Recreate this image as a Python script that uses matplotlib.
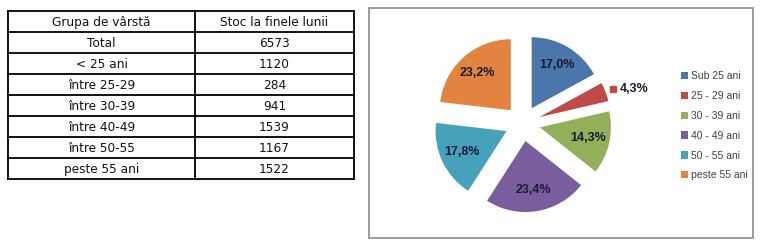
import numpy as np
import matplotlib
matplotlib.use("Agg")
import matplotlib.pyplot as plt
from matplotlib.patches import Rectangle, Patch

# ---- data ----
table_header = ["Grupa de vârstă", "Stoc la finele lunii"]
table_groups = ["Total", "< 25 ani", "între 25-29", "între 30-39", "între 40-49", "între 50-55", "peste 55 ani"]
table_values = [6573, 1120, 284, 941, 1539, 1167, 1522]

pie_labels = ["Sub 25 ani", "25 - 29 ani", "30 - 39 ani", "40 - 49 ani", "50 - 55 ani", "peste 55 ani"]
pie_values = [1120, 284, 941, 1539, 1167, 1522]
pie_colors = ["#4A76AB", "#BE4B48", "#93AF5A", "#7A5D9C", "#46A1BA", "#E2843F"]

W, H = 761, 248
fig = plt.figure(figsize=(W / 100, H / 100), dpi=100)
fig.patch.set_facecolor("white")

# full-figure pixel axes for table and frame
bg = fig.add_axes([0, 0, 1, 1])
bg.set_xlim(0, W)
bg.set_ylim(H, 0)
bg.axis("off")

# ---- table ----
x0, xm, x1 = 8, 195, 354
y0, rh = 11, 21
rows = [table_header] + [[g, str(v)] for g, v in zip(table_groups, table_values)]
n = len(rows)
for i in range(n + 1):
    bg.plot([x0, x1], [y0 + i * rh, y0 + i * rh], color="black", lw=1.3, solid_capstyle="projecting")
for x in (x0, xm, x1):
    bg.plot([x, x], [y0, y0 + n * rh], color="black", lw=1.3, solid_capstyle="projecting")
for i, (a, b) in enumerate(rows):
    yc = y0 + i * rh + rh / 2 + 1
    bg.text((x0 + xm) / 2, yc, a, ha="center", va="center", fontsize=8.7,
            family="DejaVu Sans", color="#111111")
    bg.text((xm + x1) / 2, yc, b, ha="center", va="center", fontsize=8.7,
            family="DejaVu Sans", color="#111111")

# ---- chart frame ----
bg.add_patch(Rectangle((369, 8), 384, 230, fill=False, edgecolor="#8a8a8a", lw=1.2))

# ---- pie ----
cx, cy, r = 522.6, 123.5, 71.0
lim = 1.6
size = 2 * lim * r
ax = fig.add_axes([(cx - size / 2) / W, (H - cy - size / 2) / H, size / W, size / H])

explode = [0.25] * len(pie_values)
wedges, texts, autotexts = ax.pie(
    pie_values, colors=pie_colors, explode=explode, startangle=90, counterclock=False,
    autopct=lambda p: f"{p:.1f}%".replace(".", ","), pctdistance=0.7,
    wedgeprops=dict(linewidth=0),
    textprops=dict(fontsize=9, fontweight="bold", color="#1a1a33", family="Liberation Sans"),
)
ax.set_xlim(-lim, lim)
ax.set_ylim(-lim, lim)
ax.set_aspect("equal")
ax.axis("off")

# small slice label outside with legend key
w = wedges[1]
ang = np.deg2rad((w.theta1 + w.theta2) / 2)
d = 1.36
tx, ty = d * np.cos(ang), d * np.sin(ang)
autotexts[1].set_position((tx + 0.1, ty))
autotexts[1].set_ha("left")
ax.plot([tx], [ty], marker="s", markersize=4.5, color=pie_colors[1], linestyle="none")

# ---- legend ----
handles = [Patch(facecolor=c, edgecolor="none") for c in pie_colors]
fig.legend(handles, pie_labels, loc="upper left", bbox_to_anchor=(681 / W, 1 - 71 / H),
           frameon=False, prop=dict(family="Liberation Sans", size=7.5),
           handlelength=0.7, handleheight=0.7,
           handletextpad=0.3, labelspacing=0.95, borderpad=0, borderaxespad=0,
           labelcolor="#404040")

fig.savefig("out.png", dpi=100, facecolor="white")
